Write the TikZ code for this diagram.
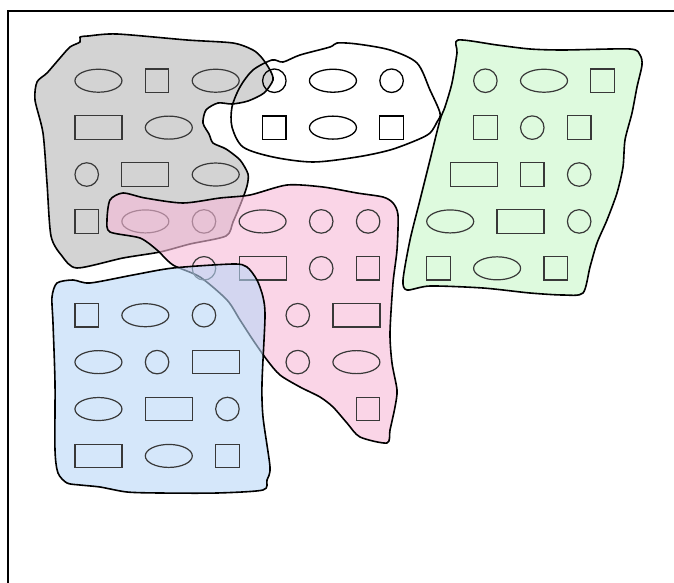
\documentclass[tikz,border=0pt]{standalone}
\usepackage{xcolor}
\usepackage{tikz}
\usetikzlibrary{shapes.geometric}

\definecolor{greyfill}{RGB}{182,182,182}
\definecolor{pinkfill}{RGB}{247,185,216}
\definecolor{bluefill}{RGB}{185,215,247}
\definecolor{greenfill}{RGB}{200,247,200}

\begin{document}
\begin{tikzpicture}[x=1pt, y=-1pt,
  blob/.style={draw, line width=1.6pt, line join=round},
  el/.style={draw, ellipse, inner sep=0pt, minimum width=47pt, minimum height=23pt},
  rc/.style={draw, rectangle, inner sep=0pt, minimum width=47pt, minimum height=23.5pt},
  sq/.style={draw, rectangle, inner sep=0pt, minimum size=23.5pt},
  cr/.style={draw, circle, inner sep=0pt, minimum size=23.5pt},
  soft/.style={draw=black!78, line width=1.2pt},
  hard/.style={draw=black, line width=1.3pt}]
\fill[white] (0,0) rectangle (674,583);
\useasboundingbox (0,0) rectangle (674,583);
\draw[line width=1.2pt] (8,583) -- (8,11) -- (674,11);

\draw[blob, preaction={fill=greyfill, fill opacity=.6}]
  plot[smooth cycle, tension=.45] coordinates {(70,47) (80,42) (80,37) (88,36) (117,34) (187,40) (233,43) (253,50) (262,58) (270,70) (273,80) (264,93) (248,101) (232,104) (218,103) (206,110) (203,123) (209,134) (213,143) (226,149) (240,160) (248,174) (247,186) (241,203) (233,222) (226,236) (190,244) (160,252) (123,258) (77,268) (62,256) (51,236) (47,183) (43,133) (35,100) (37,82) (47,73) (60,58)};
\begin{scope}[shift={(75,69)}, x=23.45pt, y=-23.45pt, every node/.append style={soft}]
\node[el] (g1) at (1,0.5) {};
\node[sq] (g2) at (3.5,0.5) {};
\node[el] (g3) at (6,0.5) {};
\node[rc] (g4) at (1,2.5) {};
\node[el] (g5) at (4,2.5) {};
\node[cr] (g6) at (0.5,4.5) {};
\node[rc] (g7) at (3,4.5) {};
\node[el] (g8) at (6,4.5) {};
\node[sq] (g9) at (0.5,6.5) {};
\node[el] (g10) at (3,6.5) {};
\node[cr] (g11) at (5.5,6.5) {};
\end{scope}

\draw[blob, preaction={fill=pinkfill, fill opacity=.6}]
  plot[smooth cycle, tension=.45] coordinates {(123,193) (145,198) (183,203) (220,198) (250,195) (287,185) (323,187) (357,193) (383,197) (393,203) (398,215) (397,250) (393,283) (390,333) (392,363) (397,390) (395,407) (390,430) (387,443) (360,437) (347,423) (333,407) (320,397) (300,387) (280,375) (267,360) (253,340) (240,320) (227,300) (200,277) (173,265) (157,250) (140,238) (110,232) (107,220) (110,200)};
\begin{scope}[shift={(75,69)}, x=23.45pt, y=-23.45pt, every node/.append style={soft}]
\node[el] (p1) at (8,6.5) {};
\node[cr] (p2) at (10.5,6.5) {};
\node[cr] (p3) at (12.5,6.5) {};
\node[cr] (p4) at (5.5,8.5) {};
\node[rc] (p5) at (8,8.5) {};
\node[cr] (p6) at (10.5,8.5) {};
\node[sq] (p7) at (12.5,8.5) {};
\node[cr] (p8) at (9.5,10.5) {};
\node[rc] (p9) at (12,10.5) {};
\node[cr] (p10) at (9.5,12.5) {};
\node[el] (p11) at (12,12.5) {};
\node[sq] (p12) at (12.5,14.5) {};
\end{scope}

\draw[blob, preaction={fill=bluefill, fill opacity=.6}]
  plot[smooth cycle, tension=.45] coordinates {(57,283) (73,280) (90,283) (133,275) (173,268) (233,264) (247,267) (257,280) (263,297) (265,317) (262,383) (263,417) (270,467) (267,480) (263,490) (217,493) (160,493) (127,492) (100,487) (80,485) (67,483) (58,473) (55,450) (55,383) (53,323) (52,297)};
\begin{scope}[shift={(75,69)}, x=23.45pt, y=-23.45pt, every node/.append style={soft}]
\node[sq] (b1) at (0.5,10.5) {};
\node[el] (b2) at (3,10.5) {};
\node[cr] (b3) at (5.5,10.5) {};
\node[el] (b4) at (1,12.5) {};
\node[cr] (b5) at (3.5,12.5) {};
\node[rc] (b6) at (6,12.5) {};
\node[el] (b7) at (1,14.5) {};
\node[rc] (b8) at (4,14.5) {};
\node[cr] (b9) at (6.5,14.5) {};
\node[rc] (b10) at (1,16.5) {};
\node[el] (b11) at (4,16.5) {};
\node[sq] (b12) at (6.5,16.5) {};
\end{scope}

\draw[blob, preaction={fill=greenfill, fill opacity=.6}]
  plot[smooth cycle, tension=.45] coordinates {(458,40) (497,45) (530,49) (563,50) (630,49) (640,55) (642,65) (637,87) (632,113) (625,140) (623,167) (617,193) (607,220) (597,243) (590,267) (583,293) (563,295) (530,293) (483,288) (430,286) (407,290) (403,280) (410,240) (420,200) (430,160) (440,120) (445,107) (452,83) (457,53)};
\begin{scope}[shift={(75,69)}, x=23.45pt, y=-23.45pt, every node/.append style={soft}]
\node[cr] (n1) at (17.5,0.5) {};
\node[el] (n2) at (20,0.5) {};
\node[sq] (n3) at (22.5,0.5) {};
\node[sq] (n4) at (17.5,2.5) {};
\node[cr] (n5) at (19.5,2.5) {};
\node[sq] (n6) at (21.5,2.5) {};
\node[rc] (n7) at (17,4.5) {};
\node[sq] (n8) at (19.5,4.5) {};
\node[cr] (n9) at (21.5,4.5) {};
\node[el] (n10) at (16,6.5) {};
\node[rc] (n11) at (19,6.5) {};
\node[cr] (n12) at (21.5,6.5) {};
\node[sq] (n13) at (15.5,8.5) {};
\node[el] (n14) at (18,8.5) {};
\node[sq] (n15) at (20.5,8.5) {};
\end{scope}

\draw[blob]
  plot[smooth cycle, tension=.5] coordinates {(272,60) (283,62) (300,55) (330,47) (337,43) (357,44) (390,50) (417,63) (430,90) (440,113) (437,122) (430,133) (417,140) (390,150) (357,157) (313,162) (273,157) (243,147) (232,127) (232,107) (240,87) (253,70)};
\begin{scope}[shift={(75,69)}, x=23.45pt, y=-23.45pt, every node/.append style={hard}]
\node[cr] (w1) at (8.5,0.5) {};
\node[el] (w2) at (11,0.5) {};
\node[cr] (w3) at (13.5,0.5) {};
\node[sq] (w4) at (8.5,2.5) {};
\node[el] (w5) at (11,2.5) {};
\node[sq] (w6) at (13.5,2.5) {};
\end{scope}
\end{tikzpicture}
\end{document}
